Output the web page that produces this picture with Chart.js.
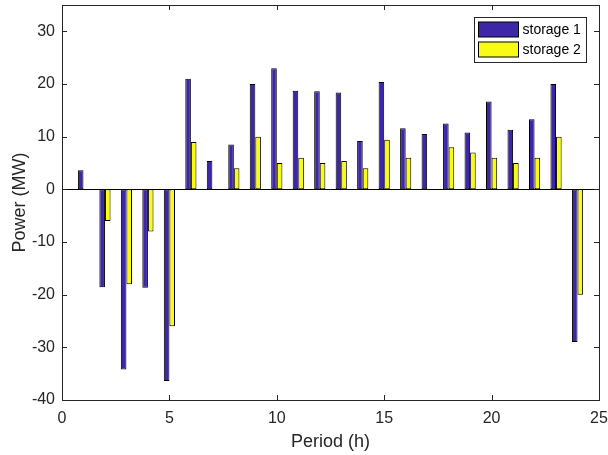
<!DOCTYPE html>
<html>
<head>
<meta charset="utf-8">
<script src="https://cdn.jsdelivr.net/npm/chart.js@4.4.0/dist/chart.umd.min.js"></script>
<style>
  html, body { margin: 0; padding: 0; background: #fff; }
  #wrap { width: 608px; height: 455px; }
</style>
</head>
<body>
<div id="wrap"><canvas id="grafico"></canvas></div>
<script>
var periods = [1, 2, 3, 4, 5, 6, 7, 8, 9, 10, 11, 12, 13, 14, 15, 16, 17, 18, 19, 20, 21, 22, 23, 24];
var storage1 = [3.6, -18.6, -34.2, -18.7, -36.4, 21.0, 5.4, 8.5, 20.0, 23.0, 18.7, 18.6, 18.4, 9.2, 20.4, 11.6, 10.5, 12.5, 10.8, 16.7, 11.3, 13.3, 20.0, -29.0];
var storage2 = [0, -6.0, -18.0, -8.0, -26.0, 9.0, 0, 4.0, 10.0, 5.0, 6.0, 5.0, 5.4, 4.0, 9.4, 6.0, 0, 8.0, 7.0, 6.0, 5.0, 6.0, 10.0, -20.0];
var seriesNames = ['storage 1', 'storage 2'];
var xTicks = [0, 5, 10, 15, 20, 25];
var yTicks = [-40, -30, -20, -10, 0, 10, 20, 30];

var azul = 'rgb(62, 38, 168)';
var amarillo = 'rgb(249, 251, 21)';
var fuente = '"Liberation Sans", Arial, sans-serif';

function puntos(vals) {
  return periods.map(function(p, i) { return { x: p, y: vals[i] }; });
}

// caja, marcas hacia dentro y linea base (estilo MATLAB)
var cajaPlugin = {
  id: 'caja',
  beforeDatasetsDraw: function(chart) {
    var ctx = chart.ctx, a = chart.chartArea, y = chart.scales.y;
    var y0 = Math.round(y.getPixelForValue(0)) + 0.5;
    ctx.save();
    ctx.strokeStyle = '#000';
    ctx.lineWidth = 1;
    ctx.beginPath();
    ctx.moveTo(a.left, y0);
    ctx.lineTo(a.right, y0);
    ctx.stroke();
    ctx.restore();
  },
  afterDraw: function(chart) {
    var ctx = chart.ctx, a = chart.chartArea;
    var x = chart.scales.x, y = chart.scales.y;
    var largo = 5;
    ctx.save();
    ctx.strokeStyle = '#262626';
    ctx.lineWidth = 1;
    ctx.strokeRect(Math.round(a.left) + 0.5, Math.round(a.top) + 0.5,
      Math.round(a.right - a.left), Math.round(a.bottom - a.top));
    ctx.beginPath();
    xTicks.forEach(function(v) {
      var px = Math.round(x.getPixelForValue(v)) + 0.5;
      ctx.moveTo(px, a.bottom); ctx.lineTo(px, a.bottom - largo);
      ctx.moveTo(px, a.top); ctx.lineTo(px, a.top + largo);
    });
    yTicks.forEach(function(v) {
      var py = Math.round(y.getPixelForValue(v)) + 0.5;
      ctx.moveTo(a.left, py); ctx.lineTo(a.left + largo, py);
      ctx.moveTo(a.right, py); ctx.lineTo(a.right - largo, py);
    });
    ctx.stroke();

    // leyenda dentro del grafico
    var lx = 474.5, ly = 17.5, lw = 112, lh = 45;
    ctx.fillStyle = '#fff';
    ctx.fillRect(lx, ly, lw, lh);
    ctx.strokeStyle = '#262626';
    ctx.strokeRect(lx, ly, lw, lh);
    var colores = [azul, amarillo];
    ctx.font = '14px ' + fuente;
    ctx.textBaseline = 'middle';
    seriesNames.forEach(function(n, i) {
      var sy = ly + 4.5 + i * 20;
      ctx.fillStyle = colores[i];
      ctx.fillRect(lx + 4, sy, 40, 15);
      ctx.strokeStyle = '#000';
      ctx.strokeRect(lx + 4, sy, 40, 15);
      ctx.fillStyle = '#000';
      ctx.fillText(n, lx + 48, sy + 8);
    });
    ctx.restore();
  }
};

new Chart(document.getElementById('grafico'), {
  type: 'bar',
  data: {
    datasets: [{
      label: seriesNames[0],
      data: puntos(storage1),
      backgroundColor: azul,
      borderColor: '#000',
      borderWidth: 1,
      borderSkipped: false
    }, {
      label: seriesNames[1],
      data: puntos(storage2),
      backgroundColor: amarillo,
      borderColor: '#000',
      borderWidth: 1,
      borderSkipped: false
    }]
  },
  options: {
    responsive: true,
    maintainAspectRatio: false,
    animation: false,
    devicePixelRatio: 1,
    layout: { padding: { top: 5, right: 9, left: 0, bottom: 0 } },
    datasets: { bar: { categoryPercentage: 0.52, barPercentage: 1.0 } },
    plugins: {
      legend: { display: false },
      tooltip: { enabled: false }
    },
    scales: {
      x: {
        type: 'linear',
        min: 0,
        max: 25,
        offset: false,
        grid: { display: false, drawTicks: false },
        border: { display: false },
        afterBuildTicks: function(s) { s.ticks = xTicks.map(function(v) { return { value: v }; }); },
        afterFit: function(s) { s.height = 55; s.paddingLeft = 0; s.paddingRight = 0; },
        ticks: { color: '#262626', font: { family: fuente, size: 16 }, padding: 9, maxRotation: 0 },
        title: { display: true, text: 'Period (h)', color: '#262626', font: { family: fuente, size: 18 }, padding: { top: 0, bottom: 2 } }
      },
      y: {
        min: -40,
        max: 35,
        grid: { display: false, drawTicks: false },
        border: { display: false },
        afterBuildTicks: function(s) { s.ticks = yTicks.map(function(v) { return { value: v }; }); },
        afterFit: function(s) { s.width = 62; s.paddingTop = 0; s.paddingBottom = 0; },
        ticks: { color: '#262626', font: { family: fuente, size: 16 }, padding: 7 },
        title: { display: true, text: 'Power (MW)', color: '#262626', font: { family: fuente, size: 18 }, padding: { top: 9, bottom: 0 } }
      }
    }
  },
  plugins: [cajaPlugin]
});
</script>
</body>
</html>
